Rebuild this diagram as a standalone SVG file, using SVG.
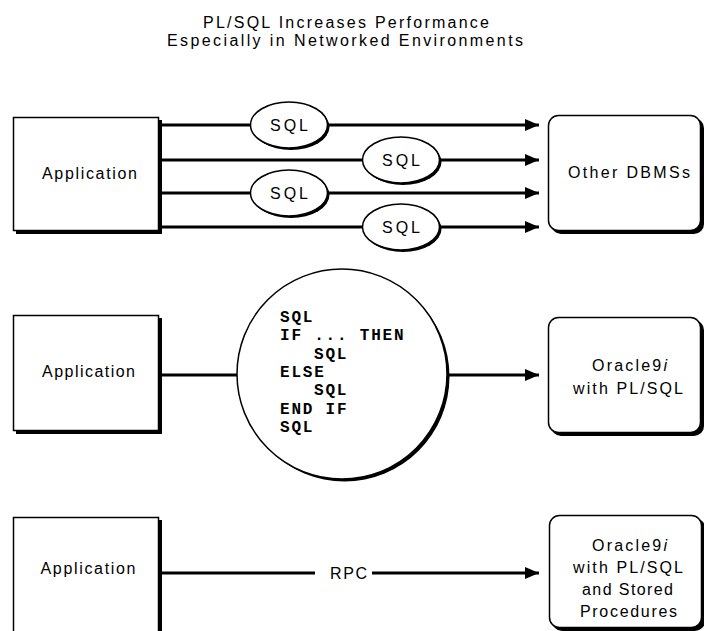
<svg xmlns="http://www.w3.org/2000/svg" width="704" height="631" viewBox="0 0 704 631">
<defs>
<style>
.t{font-family:"Liberation Sans",Arial,sans-serif;font-size:16px;fill:#000;text-anchor:middle}
.code{font-family:"Liberation Mono","Courier New",monospace;font-size:16px;font-weight:bold;fill:#000;letter-spacing:1.8px}
.box{fill:#fff;stroke:#000;stroke-width:1.5}
.sh{fill:#000}
.ln{stroke:#000;stroke-width:3;fill:none}
</style>
<marker id="ah" markerUnits="userSpaceOnUse" markerWidth="15" markerHeight="13" refX="14" refY="6.5" orient="auto">
<path d="M0,0.5 L14,6.5 L0,12.5 Z" fill="#000"/>
</marker>
</defs>
<rect width="704" height="631" fill="#fff"/>
<g id="title">
<text class="t" x="346" y="28" textLength="286" lengthAdjust="spacing">PL/SQL Increases Performance</text>
<text class="t" x="345" y="46" textLength="356" lengthAdjust="spacing">Especially in Networked Environments</text>
</g>
<g id="connectors">
<line class="ln" x1="160" y1="125" x2="539" y2="125" marker-end="url(#ah)"/>
<line class="ln" x1="160" y1="160" x2="539" y2="160" marker-end="url(#ah)"/>
<line class="ln" x1="160" y1="193" x2="539" y2="193" marker-end="url(#ah)"/>
<line class="ln" x1="160" y1="227" x2="539" y2="227" marker-end="url(#ah)"/>
<line class="ln" x1="160" y1="375" x2="238" y2="375"/>
<line class="ln" x1="446" y1="375" x2="539" y2="375" marker-end="url(#ah)"/>
<line class="ln" x1="160" y1="573" x2="315" y2="573"/>
<line class="ln" x1="372" y1="573" x2="539" y2="573" marker-end="url(#ah)"/>
<text class="t" x="348.5" y="579" textLength="37" lengthAdjust="spacing">RPC</text>
</g>
<g id="sql1">
<ellipse class="sh" cx="291" cy="127" rx="38.5" ry="23"/>
<ellipse class="box" cx="289" cy="125" rx="38.5" ry="23" stroke-width="1"/>
<text class="t" x="289" y="131" textLength="38" lengthAdjust="spacing">SQL</text>
</g>
<g id="sql2">
<ellipse class="sh" cx="403" cy="162" rx="38.5" ry="23"/>
<ellipse class="box" cx="401" cy="160" rx="38.5" ry="23" stroke-width="1"/>
<text class="t" x="401" y="166" textLength="38" lengthAdjust="spacing">SQL</text>
</g>
<g id="sql3">
<ellipse class="sh" cx="291" cy="195" rx="38.5" ry="23"/>
<ellipse class="box" cx="289" cy="193" rx="38.5" ry="23" stroke-width="1"/>
<text class="t" x="289" y="199" textLength="38" lengthAdjust="spacing">SQL</text>
</g>
<g id="sql4">
<ellipse class="sh" cx="403" cy="229" rx="38.5" ry="23"/>
<ellipse class="box" cx="401" cy="227" rx="38.5" ry="23" stroke-width="1"/>
<text class="t" x="401" y="233" textLength="38" lengthAdjust="spacing">SQL</text>
</g>
<g id="app1">
<rect class="sh" x="16" y="120" width="146" height="114"/>
<rect class="box" x="13.5" y="117.5" width="145" height="113"/>
<text class="t" x="89.5" y="179" textLength="95" lengthAdjust="spacing">Application</text>
</g>
<g id="dbms">
<rect class="sh" x="551" y="118" width="153" height="116" rx="10"/>
<rect class="box" x="548.5" y="115.5" width="152" height="115" rx="10"/>
<text class="t" x="629" y="178" textLength="122" lengthAdjust="spacing">Other DBMSs</text>
</g>
<g id="app2">
<rect class="sh" x="16" y="318" width="146" height="116"/>
<rect class="box" x="13.5" y="315.5" width="145" height="115"/>
<text class="t" x="88.5" y="377" textLength="93" lengthAdjust="spacing">Application</text>
</g>
<g id="plsql-block">
<circle class="sh" cx="344.5" cy="376.5" r="105"/>
<circle class="box" cx="342" cy="374" r="105" stroke-width="1"/>
<text class="code" x="280" y="322">SQL</text>
<text class="code" x="280" y="340.3" xml:space="preserve">IF ... THEN</text>
<text class="code" x="314" y="358.6">SQL</text>
<text class="code" x="280" y="376.9">ELSE</text>
<text class="code" x="314" y="395.2">SQL</text>
<text class="code" x="280" y="413.5" xml:space="preserve">END IF</text>
<text class="code" x="280" y="431.8">SQL</text>
</g>
<g id="oracle1">
<rect class="sh" x="551" y="320" width="153" height="116" rx="10"/>
<rect class="box" x="548.5" y="317.5" width="152" height="115" rx="10"/>
<text class="t" x="629.5" y="371" textLength="75" lengthAdjust="spacing">Oracle9<tspan font-style="italic">i</tspan></text>
<text class="t" x="628" y="394" textLength="110" lengthAdjust="spacing">with PL/SQL</text>
</g>
<g id="app3">
<rect class="sh" x="16" y="520" width="146" height="116"/>
<rect class="box" x="13.5" y="517.5" width="145" height="120"/>
<text class="t" x="88" y="574" textLength="95" lengthAdjust="spacing">Application</text>
</g>
<g id="oracle2">
<rect class="sh" x="552" y="518" width="153" height="113" rx="10"/>
<rect class="box" x="549.5" y="515.5" width="152" height="112" rx="10"/>
<text class="t" x="629.5" y="551" textLength="75" lengthAdjust="spacing">Oracle9<tspan font-style="italic">i</tspan></text>
<text class="t" x="628" y="573" textLength="110" lengthAdjust="spacing">with PL/SQL</text>
<text class="t" x="627.5" y="595" textLength="91" lengthAdjust="spacing">and Stored</text>
<text class="t" x="628.5" y="617" textLength="97" lengthAdjust="spacing">Procedures</text>
</g>
</svg>
